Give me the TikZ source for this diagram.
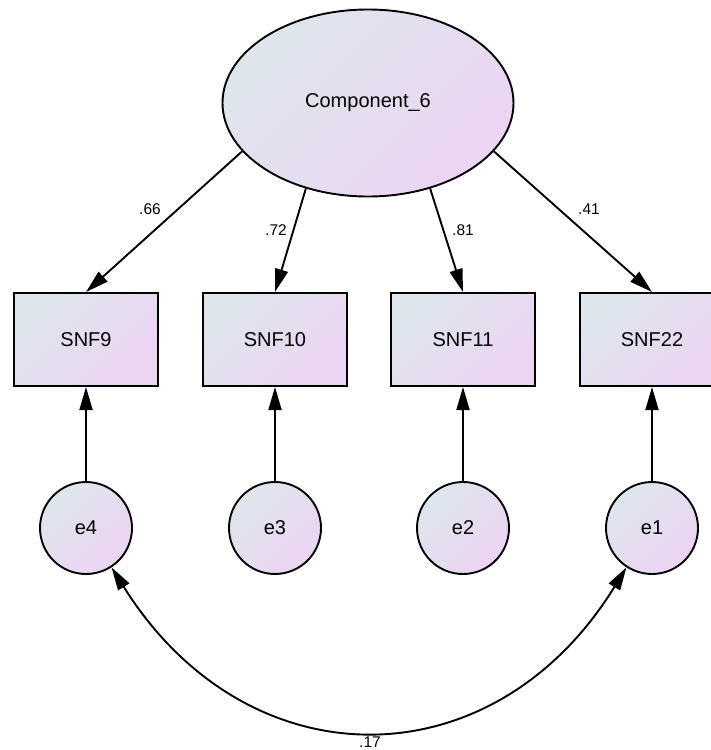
\documentclass[tikz,border=0pt]{standalone}
\usepackage{fontspec}
\setmainfont{Liberation Sans}
\usetikzlibrary{shapes.geometric,arrows.meta}
\definecolor{gA}{RGB}{222,230,236}
\definecolor{gB}{RGB}{236,212,243}
\begin{document}
\begin{tikzpicture}[x=1pt,y=-1pt,
  shadefill/.style={left color=gA,right color=gB,shading angle=45},
  latent/.style={ellipse,draw,line width=1.9pt,shadefill,minimum width=291pt,minimum height=187pt,inner sep=0pt,font=\fontsize{20}{24}\selectfont},
  obsbox/.style={rectangle,draw,line width=2pt,shadefill,minimum width=144pt,minimum height=93pt,inner sep=0pt,font=\fontsize{20}{24}\selectfont},
  errc/.style={circle,draw,line width=1.9pt,shadefill,minimum size=92pt,inner sep=0pt,font=\fontsize{20}{24}\selectfont},
  conn/.style={line width=1.9pt,-{Triangle[length=23pt,width=13pt]}},
  cov/.style={line width=1.9pt,{Triangle[length=23pt,width=13pt]}-{Triangle[length=23pt,width=13pt]}},
  lbl/.style={font=\fontsize{15.5}{18}\selectfont,inner sep=0pt}
]
\clip (0,0) rectangle (711,750);
\fill[white] (0,0) rectangle (711,750);
\node[latent] (c) at (368,103) {Component\_6};
\node[obsbox] (b9) at (86,339.5) {SNF9};
\node[obsbox] (b10) at (275,339.5) {SNF10};
\node[obsbox] (b11) at (463,339.5) {SNF11};
\node[obsbox] (b22) at (652,339.5) {SNF22};
\node[errc] (e4) at (86,528) {e4};
\node[errc] (e3) at (275,528) {e3};
\node[errc] (e2) at (463,528) {e2};
\node[errc] (e1) at (652,528) {e1};
\draw[conn] (c.201.4) -- (b9.north);
\draw[conn] (c.234.2) -- (b10.north);
\draw[conn] (c.306.7) -- (b11.north);
\draw[conn] (c.339.3) -- (b22.north);
\draw[conn] (e4) -- (b9);
\draw[conn] (e3) -- (b10);
\draw[conn] (e2) -- (b11);
\draw[conn] (e1) -- (b22);
\draw[cov] (e4.-57) .. controls (247,784) and (493,784) .. (e1.237);
\node[lbl] (l66) at (150,209) {.66};
\node[lbl] (l72) at (276,230) {.72};
\node[lbl] (l81) at (463,230) {.81};
\node[lbl] (l41) at (589,209) {.41};
\node[lbl] (l17) at (370,742) {.17};
\end{tikzpicture}
\end{document}
